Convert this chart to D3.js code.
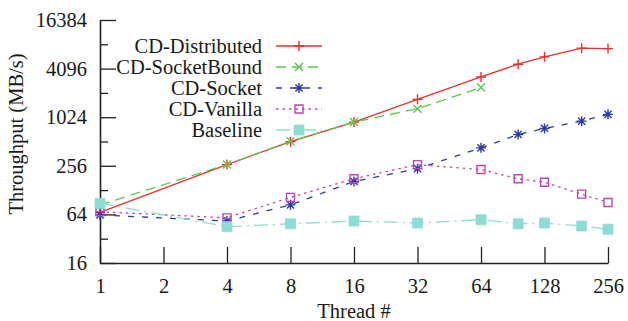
<!DOCTYPE html>
<html>
<head>
<meta charset="utf-8">
<script src="https://cdn.jsdelivr.net/npm/d3@7"></script>
<style>
  html, body { margin: 0; padding: 0; background: #fff; }
</style>
</head>
<body>
<svg id="chart" width="628" height="321"></svg>
<script>
// Thread counts sampled on the x axis
const threadsFull = [1, 4, 8, 16, 32, 64, 96, 128, 192, 256];
const threadsBound = [1, 4, 8, 16, 32, 64];

// Throughput in MB/s per configuration
const cdDistributed = [68, 265, 510, 890, 1704, 3229, 4643, 5726, 7345, 7250];
const cdSocketBound = [84, 265, 516, 890, 1306, 2384];
const cdSocket = [63, 53, 84, 164, 236, 427, 626, 743, 915, 1110];
const cdVanilla = [69, 58, 104, 177, 265, 230, 177, 160, 114, 90];
const baseline = [88, 45, 49, 53, 50, 55, 49, 50, 46, 42];

// Axis ticks
const xTicks = [1, 2, 4, 8, 16, 32, 64, 128, 256];
const yMajorTicks = [16, 64, 256, 1024, 4096, 16384];
const yMinorTicks = [32, 128, 512, 2048, 8192];

const seriesNames = ["CD-Distributed", "CD-SocketBound", "CD-Socket", "CD-Vanilla", "Baseline"];

const series = [
  { name: seriesNames[0], xs: threadsFull, ys: cdDistributed, color: "#e8312c", dash: null, marker: "plus" },
  { name: seriesNames[1], xs: threadsBound, ys: cdSocketBound, color: "#5cc64c", dash: "10,6", marker: "cross" },
  { name: seriesNames[2], xs: threadsFull, ys: cdSocket, color: "#2b3c9c", dash: "6,8", marker: "star" },
  { name: seriesNames[3], xs: threadsFull, ys: cdVanilla, color: "#c043b4", dash: "2.5,4", marker: "square" },
  { name: seriesNames[4], xs: threadsFull, ys: baseline, color: "#8fdcd5", dash: "14,5,2,5", marker: "fsquare" }
];

const svg = d3.select("#chart");
const FONT_SIZE = "20.5px";
const FONT_FAMILY = "Liberation Serif";

const x = d3.scaleLog().base(2).domain([1, 256]).range([100, 608]);
const y = d3.scaleLog().base(2).domain([16, 16384]).range([263, 20]);

// Marker path generator centred on (0,0)
function markerPath(type) {
  const r = 5;
  const p = d3.path();
  if (type === "plus") {
    p.moveTo(-r, 0); p.lineTo(r, 0); p.moveTo(0, -r); p.lineTo(0, r);
  } else if (type === "cross") {
    const k = 4;
    p.moveTo(-k, -k); p.lineTo(k, k); p.moveTo(-k, k); p.lineTo(k, -k);
  } else if (type === "star") {
    const k = 3.6;
    p.moveTo(-r, 0); p.lineTo(r, 0); p.moveTo(0, -r); p.lineTo(0, r);
    p.moveTo(-k, -k); p.lineTo(k, k); p.moveTo(-k, k); p.lineTo(k, -k);
  } else {
    const s = type === "fsquare" ? 5 : 4;
    p.rect(-s, -s, 2 * s, 2 * s);
  }
  return p.toString();
}

function drawMarker(g, type, color, cx, cy) {
  const filled = type === "fsquare";
  g.append("path")
    .attr("d", markerPath(type))
    .attr("transform", `translate(${cx},${cy})`)
    .attr("fill", filled ? color : "none")
    .attr("stroke", color)
    .attr("stroke-width", filled ? 0.8 : 1.4);
}

function styleText(sel) {
  return sel.attr("font-family", FONT_FAMILY)
    .attr("font-size", FONT_SIZE)
    .attr("fill", "#1a1a1a");
}

// Axes: inward ticks, major and minor on y
const axisColor = "#222";
const gy = svg.append("g").attr("transform", "translate(100,0)")
  .call(d3.axisLeft(y).tickValues(yMajorTicks).tickSize(-16).tickSizeOuter(0)
    .tickPadding(13).tickFormat(d3.format("d")));
const gyMinor = svg.append("g").attr("transform", "translate(100,0)")
  .call(d3.axisLeft(y).tickValues(yMinorTicks).tickSize(-8).tickSizeOuter(0).tickFormat(""));
gyMinor.select(".domain").remove();
const gx = svg.append("g").attr("transform", "translate(0,263)")
  .call(d3.axisBottom(x).tickValues(xTicks).tickSize(-16).tickSizeOuter(0)
    .tickPadding(15).tickFormat(d3.format("d")));

[gy, gyMinor, gx].forEach(g => {
  g.attr("font-family", FONT_FAMILY).attr("font-size", FONT_SIZE);
  g.selectAll("line").attr("stroke", axisColor).attr("stroke-width", 1.3);
  g.selectAll(".domain").attr("stroke", axisColor).attr("stroke-width", 1.6);
  styleText(g.selectAll("text"));
});

// Axis titles
styleText(svg.append("text"))
  .attr("transform", "translate(23,134) rotate(-90)")
  .attr("text-anchor", "middle")
  .text("Throughput (MB/s)");
styleText(svg.append("text"))
  .attr("x", 354).attr("y", 318)
  .attr("text-anchor", "middle")
  .text("Thread #");

// Series lines and markers
const line = d3.line().x(d => x(d[0])).y(d => y(d[1]));
series.forEach(s => {
  const pts = s.xs.map((t, i) => [t, s.ys[i]]);
  const g = svg.append("g");
  g.append("path")
    .attr("d", line(pts))
    .attr("fill", "none")
    .attr("stroke", s.color)
    .attr("stroke-width", 1.3)
    .attr("stroke-dasharray", s.dash);
  pts.forEach(p => drawMarker(g, s.marker, s.color, x(p[0]), y(p[1])));
});

// Legend
const legend = svg.append("g");
series.forEach((s, i) => {
  const cy = 46 + i * 21;
  styleText(legend.append("text"))
    .attr("x", 262).attr("y", cy + 7)
    .attr("text-anchor", "end")
    .text(s.name);
  legend.append("line")
    .attr("x1", 276).attr("x2", 322).attr("y1", cy).attr("y2", cy)
    .attr("stroke", s.color).attr("stroke-width", 1.3)
    .attr("stroke-dasharray", s.dash);
  drawMarker(legend, s.marker, s.color, 299, cy);
});
</script>
</body>
</html>
